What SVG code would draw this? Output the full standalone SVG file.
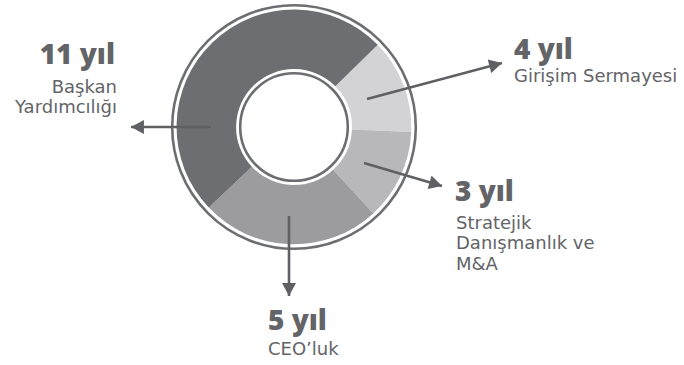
<svg xmlns="http://www.w3.org/2000/svg" width="684" height="365" viewBox="0 0 684 365">
<defs>
<style>
.big{font-family:"Open Sans","Liberation Sans",sans-serif;font-weight:800;font-size:28px;fill:#636467}
.sm{font-family:"DejaVu Sans","Liberation Sans",sans-serif;font-weight:400;font-size:18px;fill:#636467}
.ring{fill:none;stroke:#6d6e72;stroke-width:2.6}
.conn{stroke:#5f6064;stroke-width:2.6;fill:none;marker-end:url(#ah)}
</style>
<marker id="ah" markerUnits="userSpaceOnUse" markerWidth="14" markerHeight="14" viewBox="0 0 12 13" refX="12" refY="6.5" orient="auto">
<path d="M0,0 L12,6.5 L0,13 Z" fill="#5f6064"/>
</marker>
</defs>
<rect width="684" height="365" fill="#ffffff"/>
<g id="donut">
<circle class="ring" cx="294" cy="127" r="121.8"/>
<circle class="ring" cx="294" cy="127" r="53.8"/>
<path id="seg-4" d="M377.67 44.78 A117.3 117.3 0 0 1 411.19 132.12 L351.94 129.53 A58 58 0 0 0 335.37 86.35 Z" fill="#d3d3d5"/>
<path id="seg-3" d="M411.19 132.12 A117.3 117.3 0 0 1 373.25 213.48 L333.18 169.76 A58 58 0 0 0 351.94 129.53 Z" fill="#b8b8ba"/>
<path id="seg-5" d="M373.25 213.48 A117.3 117.3 0 0 1 208.80 207.62 L251.87 166.86 A58 58 0 0 0 333.18 169.76 Z" fill="#9c9b9e"/>
<path id="seg-11" d="M208.80 207.62 A117.3 117.3 0 0 1 377.67 44.78 L335.37 86.35 A58 58 0 0 0 251.87 166.86 Z" fill="#6d6e72"/>
</g>
<g id="connectors">
<line class="conn" x1="211" y1="127" x2="131" y2="127"/>
<line class="conn" x1="367" y1="99" x2="502" y2="63"/>
<line class="conn" x1="364" y1="163" x2="442" y2="186"/>
<line class="conn" x1="289" y1="216" x2="289" y2="296"/>
</g>
<g id="label-11">
<text class="big" x="115" y="64" text-anchor="end">11 yıl</text>
<text class="sm" x="117" y="92.5" text-anchor="end">Başkan</text>
<text class="sm" x="117" y="113" text-anchor="end">Yardımcılığı</text>
</g>
<g id="label-4">
<text class="big" x="514" y="58.5">4 yıl</text>
<text class="sm" x="514" y="81.5">Girişim Sermayesi</text>
</g>
<g id="label-3">
<text class="big" x="455" y="200.5">3 yıl</text>
<text class="sm" x="456" y="228.5">Stratejik</text>
<text class="sm" x="456" y="249">Danışmanlık ve</text>
<text class="sm" x="456" y="269.5">M&amp;A</text>
</g>
<g id="label-5">
<text class="big" x="268" y="330">5 yıl</text>
<text class="sm" x="268" y="355">CEO’luk</text>
</g>
</svg>
